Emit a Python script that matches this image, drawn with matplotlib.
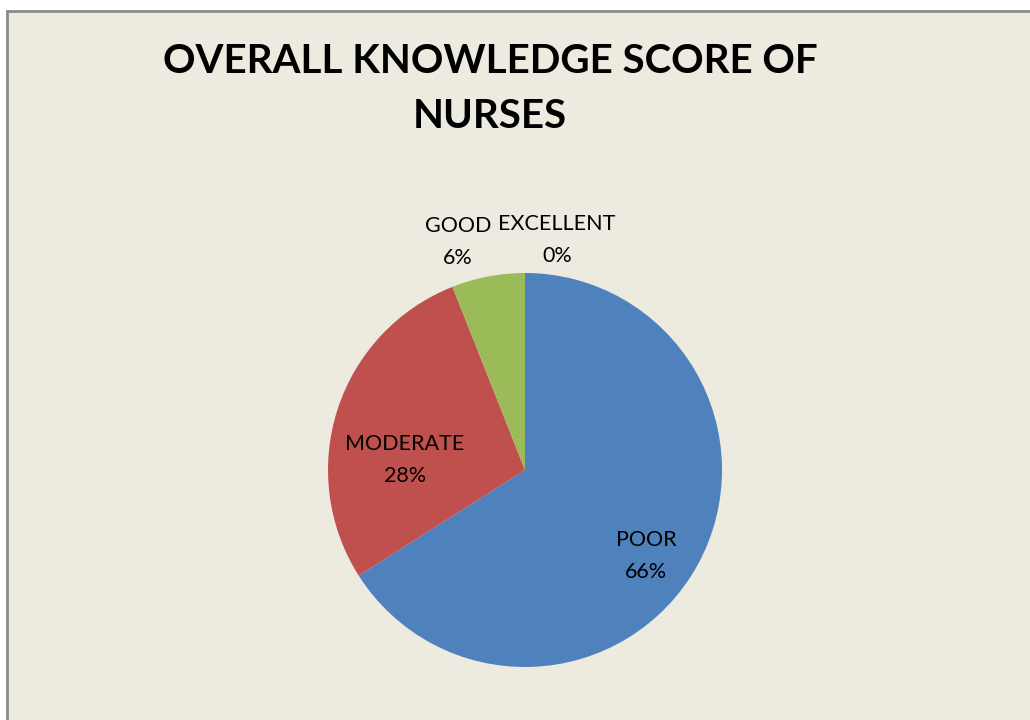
import matplotlib

matplotlib.use("Agg")

import matplotlib.pyplot as plt
from matplotlib.patches import Rectangle

# data
categories = ["POOR", "MODERATE", "GOOD", "EXCELLENT"]
percentages = [66, 28, 6, 0]
colors = ["#4F81BD", "#C0504D", "#9BBB59", "#8064A2"]
title_text = "OVERALL KNOWLEDGE SCORE OF\nNURSES"

# layout, in pixel units (y measured from the top of the image)
W, H = 1030, 720
PIE_CENTER = (525, 470)
PIE_RADIUS = 197
LABEL_POS = {
    "POOR": (646, 556),
    "MODERATE": (405, 460),
    "GOOD": (458, 242),
    "EXCELLENT": (557, 240),
}

plt.rcParams["font.family"] = ["Lato", "DejaVu Sans"]


def main() -> None:
    fig = plt.figure(figsize=(W / 100, H / 100), dpi=100)
    fig.patch.set_facecolor("white")
    ax = fig.add_axes([0, 0, 1, 1])

    # chart area box
    ax.add_patch(
        Rectangle(
            (7, -10), W + 20, H - 11 + 10,
            facecolor="#EDEADF", edgecolor="#8A8A8A", linewidth=2, zorder=0,
        )
    )

    ax.pie(
        percentages,
        colors=colors,
        startangle=90,
        counterclock=False,
        center=(PIE_CENTER[0], H - PIE_CENTER[1]),
        radius=PIE_RADIUS,
        wedgeprops={"linewidth": 0},
        frame=True,
    )
    ax.set_xlim(0, W)
    ax.set_ylim(0, H)
    ax.set_aspect("equal")
    ax.axis("off")

    for name, value in zip(categories, percentages):
        x, y = LABEL_POS[name]
        ax.text(
            x, H - y, f"{name}\n{value}%",
            ha="center", va="center", fontsize=15.5, linespacing=1.7,
            color="black",
        )

    ax.text(
        490, H - 89, title_text,
        ha="center", va="center", fontsize=29, fontweight="bold",
        linespacing=1.6,
    )

    fig.savefig("out.png", dpi=100)
    plt.close(fig)


if __name__ == "__main__":
    main()
